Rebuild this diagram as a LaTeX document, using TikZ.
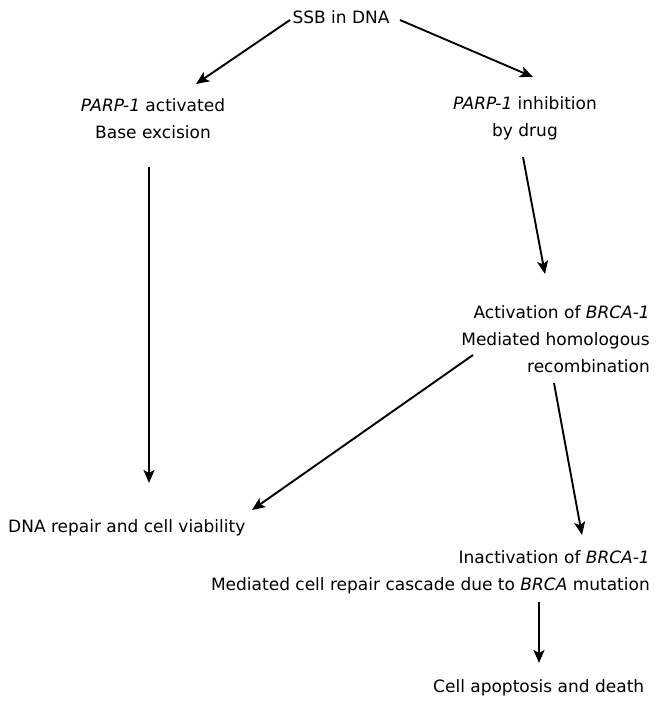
\documentclass[tikz,border=0pt]{standalone}
\usepackage{fontspec}
\setmainfont{DejaVu Sans}
\usetikzlibrary{arrows.meta}
\begin{document}
\begin{tikzpicture}[x=1pt,y=-1pt,
  txt/.style={inner sep=0pt,font=\fontsize{17}{27}\selectfont},
  arr/.style={line width=1.9pt,-{Stealth[length=13pt,width=11pt,inset=3pt]}}]
\useasboundingbox (0,0) rectangle (660,702);
\node[txt,anchor=base] (ssb) at (341,23) {SSB in DNA};
\node[txt,anchor=base,align=center] (act) at (153,138) {\textit{PARP-1} activated\\Base excision};
\node[txt,anchor=base,align=center] (inh) at (525,136) {\textit{PARP-1} inhibition\\by drug};
\node[txt,anchor=base east,align=right] (brca) at (650,372) {Activation of \textit{BRCA-1}\\Mediated homologous\\recombination};
\node[txt,anchor=base west] (rep) at (8,532) {DNA repair and cell viability};
\node[txt,anchor=base east,align=right] (inact) at (650,590) {Inactivation of \textit{BRCA-1}\\Mediated cell repair cascade due to \textit{BRCA} mutation};
\node[txt,anchor=base west] (apo) at (433,692) {Cell apoptosis and death};
\coordinate (s1) at (290,20); \coordinate (e1) at (196,84);
\coordinate (s2) at (400,20); \coordinate (e2) at (533,77);
\coordinate (s3) at (149,167); \coordinate (e3) at (149,483);
\coordinate (s4) at (523,157); \coordinate (e4) at (545,274);
\coordinate (s5) at (473,355); \coordinate (e5) at (252,510);
\coordinate (s6) at (554,383); \coordinate (e6) at (582,535);
\coordinate (s7) at (539,602); \coordinate (e7) at (539,663);
\draw[arr] (s1) -- (e1);
\draw[arr] (s2) -- (e2);
\draw[arr] (s3) -- (e3);
\draw[arr] (s4) -- (e4);
\draw[arr] (s5) -- (e5);
\draw[arr] (s6) -- (e6);
\draw[arr] (s7) -- (e7);
\end{tikzpicture}
\end{document}
